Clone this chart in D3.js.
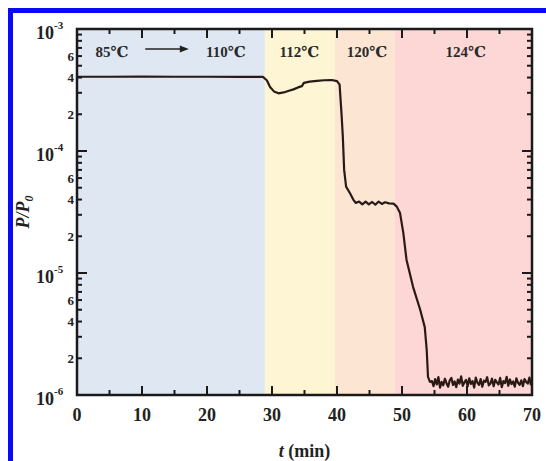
<!DOCTYPE html>
<html><head><meta charset="utf-8">
<script src="https://cdn.jsdelivr.net/npm/d3@7"></script>
<style>html,body{margin:0;padding:0;background:#fff;}svg{display:block;}</style>
</head><body>
<svg id="c" width="546" height="461"></svg>
<script>
// ---- data ----
const bandStarts = [0, 28.9, 39.7, 48.9];
const bandEnds   = [28.9, 39.7, 48.9, 70];
const bandColors = ["#DFE7F2", "#FDF5D4", "#FDE5D3", "#FDD6D6"];
const bandLabels = ["85\u2103", "110\u2103", "112\u2103", "120\u2103", "124\u2103"];
const bandLabelT = [5.4, 22.9, 34.2, 44.6, 59.8];
const arrowT = [10.5, 17.2];

const timeMain = [0,5,10,15,20,25,28.6,29.2,29.7,30.3,31.0,31.8,32.6,33.3,34.0,34.6,34.9,35.8,36.9,38.0,39.2,40.0,40.4,40.7,40.9,41.1,41.4,42.0,42.5,42.9,43.4,43.9,44.4,44.9,45.4,45.9,46.4,46.9,47.4,48.0,48.7,49.2,49.7,50.2,50.7,51.7,52.8,53.5,53.8,54.0,54.3];
const ratioMain = [4.06e-4,4.06e-4,4.07e-4,4.06e-4,4.06e-4,4.05e-4,4.05e-4,3.8e-4,3.35e-4,3.08e-4,2.97e-4,3.02e-4,3.12e-4,3.2e-4,3.32e-4,3.4e-4,3.62e-4,3.7e-4,3.76e-4,3.8e-4,3.82e-4,3.74e-4,3.5e-4,2.0e-4,1.3e-4,7.0e-5,5.1e-5,4.5e-5,4.0e-5,3.75e-5,3.85e-5,3.65e-5,3.85e-5,3.65e-5,3.82e-5,3.63e-5,3.85e-5,3.68e-5,3.8e-5,3.72e-5,3.7e-5,3.5e-5,3.1e-5,2.13e-5,1.28e-5,7.7e-6,5.0e-6,3.6e-6,2.35e-6,1.41e-6,1.28e-6];
const timeNoise = [54.6,54.85,55.1,55.35,55.6,55.85,56.1,56.35,56.6,56.85,57.1,57.35,57.6,57.85,58.1,58.35,58.6,58.85,59.1,59.35,59.6,59.85,60.1,60.35,60.6,60.85,61.1,61.35,61.6,61.85,62.1,62.35,62.6,62.85,63.1,63.35,63.6,63.85,64.1,64.35,64.6,64.85,65.1,65.35,65.6,65.85,66.1,66.35,66.6,66.85,67.1,67.35,67.6,67.85,68.1,68.35,68.6,68.85,69.1,69.35,69.6,69.85];
const ratioNoise = [1.30e-6,1.18e-6,1.35e-6,1.22e-6,1.40e-6,1.15e-6,1.28e-6,1.20e-6,1.36e-6,1.25e-6,1.17e-6,1.32e-6,1.38e-6,1.21e-6,1.29e-6,1.16e-6,1.34e-6,1.24e-6,1.42e-6,1.19e-6,1.27e-6,1.33e-6,1.18e-6,1.37e-6,1.23e-6,1.30e-6,1.15e-6,1.39e-6,1.26e-6,1.21e-6,1.35e-6,1.17e-6,1.31e-6,1.28e-6,1.40e-6,1.20e-6,1.24e-6,1.36e-6,1.18e-6,1.33e-6,1.27e-6,1.22e-6,1.38e-6,1.16e-6,1.30e-6,1.25e-6,1.41e-6,1.19e-6,1.34e-6,1.23e-6,1.29e-6,1.17e-6,1.37e-6,1.26e-6,1.21e-6,1.32e-6,1.18e-6,1.35e-6,1.28e-6,1.24e-6,1.39e-6,1.20e-6];

const xTicks = [0,10,20,30,40,50,60,70];
const xMinorTicks = [5,15,25,35,45,55,65];
const yDecades = [1e-6,1e-5,1e-4,1e-3];
const yDecadeExp = ["-6","-5","-4","-3"];
const yMinorLabels = ["2","4","6"];

// ---- layout ----
const L = 77, R = 532, T = 29, B = 395;
const svg = d3.select("#c");
const x = d3.scaleLinear().domain([0,70]).range([L,R]);
const y = d3.scaleLog().domain([1e-6,1e-3]).range([B,T]);
const serif = "'Liberation Serif','DejaVu Serif',serif";

// blue frame
svg.append("rect").attr("x",10.5).attr("y",10.5).attr("width",560).attr("height",480)
  .attr("fill","none").attr("stroke","#0A0AF5").attr("stroke-width",5);

// bands
svg.selectAll("rect.band").data(bandStarts).enter().append("rect").attr("class","band")
  .attr("x",(d)=>x(d)).attr("y",T).attr("width",(d,i)=>x(bandEnds[i])-x(d)).attr("height",B-T)
  .attr("fill",(d,i)=>bandColors[i]);

// curve
const pts = timeMain.map((t,i)=>[t,ratioMain[i]]).concat(timeNoise.map((t,i)=>[t,ratioNoise[i]]));
svg.append("path").datum(pts)
  .attr("d", d3.line().x(d=>x(d[0])).y(d=>y(d[1])))
  .attr("fill","none").attr("stroke","#2a1a16").attr("stroke-width",2.2).attr("stroke-linejoin","round");

// ticks
const axCol = "#1a1a1a";
const tickG = svg.append("g").attr("stroke",axCol).attr("stroke-width",2);
xTicks.forEach(t=>{
  tickG.append("line").attr("x1",x(t)).attr("x2",x(t)).attr("y1",B).attr("y2",B-9);
  tickG.append("line").attr("x1",x(t)).attr("x2",x(t)).attr("y1",T).attr("y2",T+9);
});
xMinorTicks.forEach(t=>{
  tickG.append("line").attr("x1",x(t)).attr("x2",x(t)).attr("y1",B).attr("y2",B-5);
  tickG.append("line").attr("x1",x(t)).attr("x2",x(t)).attr("y1",T).attr("y2",T+5);
});
y.ticks().forEach(v=>{
  const m = Math.round(v / Math.pow(10, Math.floor(Math.log10(v)+1e-9)));
  const len = (m===1)?10:5;
  tickG.append("line").attr("x1",L).attr("x2",L+len).attr("y1",y(v)).attr("y2",y(v));
  tickG.append("line").attr("x1",R).attr("x2",R-len).attr("y1",y(v)).attr("y2",y(v));
});
// frame
svg.append("rect").attr("x",L).attr("y",T).attr("width",R-L).attr("height",B-T)
  .attr("fill","none").attr("stroke",axCol).attr("stroke-width",2.5);

// x tick labels
svg.selectAll("text.xt").data(xTicks).enter().append("text").attr("class","xt")
  .attr("x",d=>x(d)).attr("y",B+26).attr("text-anchor","middle")
  .attr("font-family",serif).attr("font-weight","bold").attr("font-size",18).attr("fill","#222")
  .text(d=>d);

// y decade labels
yDecades.forEach((v,i)=>{
  const tx = svg.append("text").attr("x",L-41).attr("y",y(v)+10)
    .attr("font-family",serif).attr("font-weight","bold").attr("font-size",18).attr("fill","#222");
  tx.append("tspan").text("10");
  tx.append("tspan").attr("dy",-10).attr("font-size",11).text(yDecadeExp[i]);
});
// y minor labels
[1e-6,1e-5,1e-4].forEach(dec=>{
  yMinorLabels.forEach(lb=>{
    svg.append("text").attr("x",L-3).attr("y",y(dec*(+lb))+4.5).attr("text-anchor","end")
      .attr("font-family",serif).attr("font-weight","bold").attr("font-size",13).attr("fill","#222")
      .text(lb);
  });
});

// axis titles
const xt = svg.append("text").attr("x",(L+R)/2).attr("y",457).attr("text-anchor","middle")
  .attr("font-family",serif).attr("font-weight","bold").attr("font-size",18).attr("fill","#222");
xt.append("tspan").attr("font-style","italic").text("t");
xt.append("tspan").text(" (min)");

const yt = svg.append("text").attr("transform",`translate(29,${(T+B)/2}) rotate(-90)`).attr("text-anchor","middle")
  .attr("font-family",serif).attr("font-weight","bold").attr("font-style","italic").attr("font-size",18).attr("fill","#222");
yt.append("tspan").text("P/P");
yt.append("tspan").attr("dy",4).attr("font-size",12).text("0");

// band labels
svg.selectAll("text.bl").data(bandLabels).enter().append("text").attr("class","bl")
  .attr("x",(d,i)=>x(bandLabelT[i])).attr("y",T+28).attr("text-anchor","middle")
  .attr("font-family",serif).attr("font-weight","bold").attr("font-size",15).attr("fill","#2a2a2a")
  .text(d=>d);

// arrow
const ay = T+20;
svg.append("line").attr("x1",x(arrowT[0])).attr("x2",x(arrowT[1])-6).attr("y1",ay).attr("y2",ay)
  .attr("stroke","#222").attr("stroke-width",1.5);
svg.append("path").attr("d",`M${x(arrowT[1])},${ay} L${x(arrowT[1])-9},${ay-3.5} L${x(arrowT[1])-9},${ay+3.5} Z`)
  .attr("fill","#222");
</script>
</body></html>
